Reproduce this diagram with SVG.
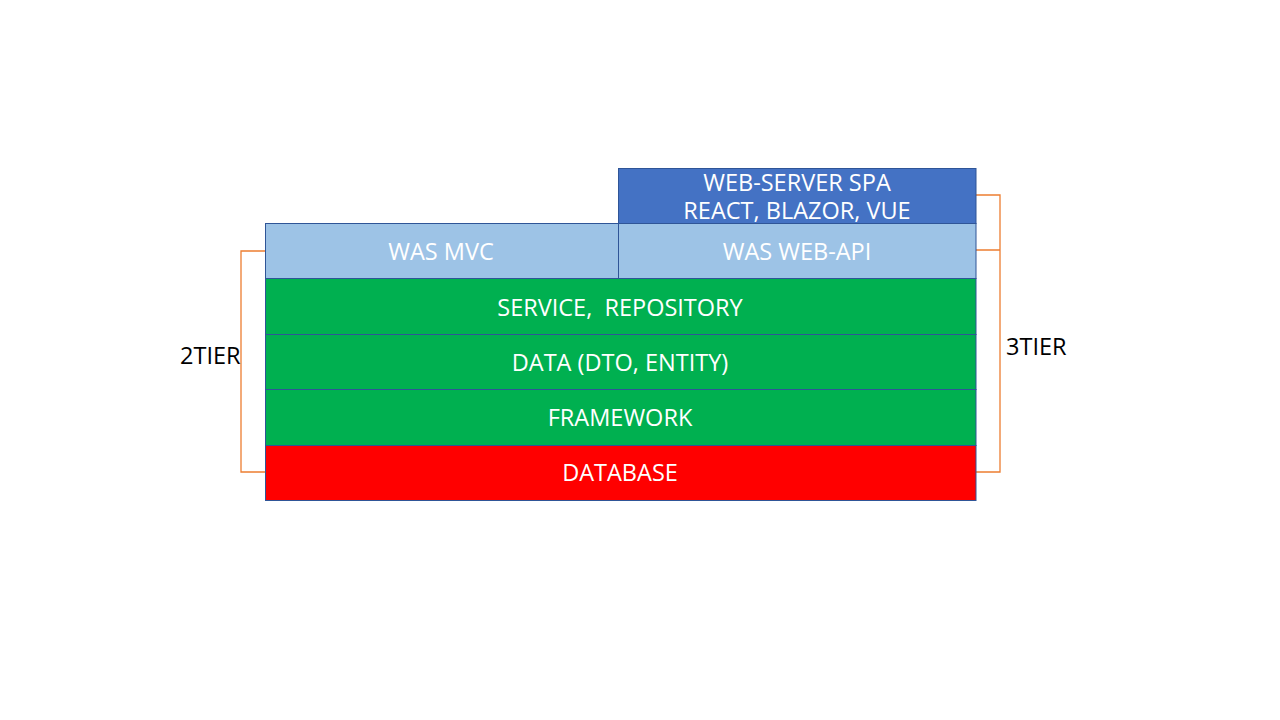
<svg xmlns="http://www.w3.org/2000/svg" width="1280" height="720" viewBox="0 0 1280 720">
<style>
.box{stroke:#2F5597;stroke-width:1}
.lbl{font-family:"Open Sans","Noto Sans CJK KR",sans-serif;font-size:23.5px;fill:#ffffff;text-anchor:middle;dominant-baseline:central}
.tier{font-family:"Open Sans","Noto Sans CJK KR",sans-serif;font-size:23.5px;fill:#000000;dominant-baseline:central}
.br{fill:none;stroke:#ED7D31;stroke-width:1.3}
</style>
<rect width="1280" height="720" fill="#ffffff"/>
<g id="connectors">
<path class="br" d="M265 251 H241 V472 H265"/>
<path class="br" d="M976 195 H1000 V472 H976 M976 250 H1000"/>
</g>
<g id="webserver"><rect class="box" x="618.500" y="168.500" width="357.500" height="55" fill="#4472C4"/>
<text class="lbl" x="797" y="182">WEB-SERVER SPA</text><text class="lbl" x="797" y="210">REACT, BLAZOR, VUE</text></g>
<g id="wasmvc"><rect class="box" x="265.500" y="223.500" width="353" height="55" fill="#9DC3E6"/>
<text class="lbl" x="441" y="251">WAS MVC</text></g>
<g id="waswebapi"><rect class="box" x="618.500" y="223.500" width="357.500" height="55" fill="#9DC3E6"/>
<text class="lbl" x="797" y="251">WAS WEB-API</text></g>
<g id="service"><rect class="box" x="265.500" y="278.500" width="710.500" height="56" fill="#00B050"/>
<text class="lbl" x="620" y="307" xml:space="preserve">SERVICE,  REPOSITORY</text></g>
<g id="data"><rect class="box" x="265.500" y="334.500" width="710.500" height="55" fill="#00B050"/>
<text class="lbl" x="620" y="362">DATA (DTO, ENTITY)</text></g>
<g id="framework"><rect class="box" x="265.500" y="389.500" width="710.500" height="56" fill="#00B050"/>
<text class="lbl" x="620" y="417">FRAMEWORK</text></g>
<g id="database"><rect class="box" x="265.500" y="445.500" width="710.500" height="55" fill="#FF0000"/>
<text class="lbl" x="620" y="472">DATABASE</text></g>
<g id="tier2"><text class="tier" x="180" y="355">2TIER</text></g>
<g id="tier3"><text class="tier" x="1006" y="346">3TIER</text></g>
</svg>
